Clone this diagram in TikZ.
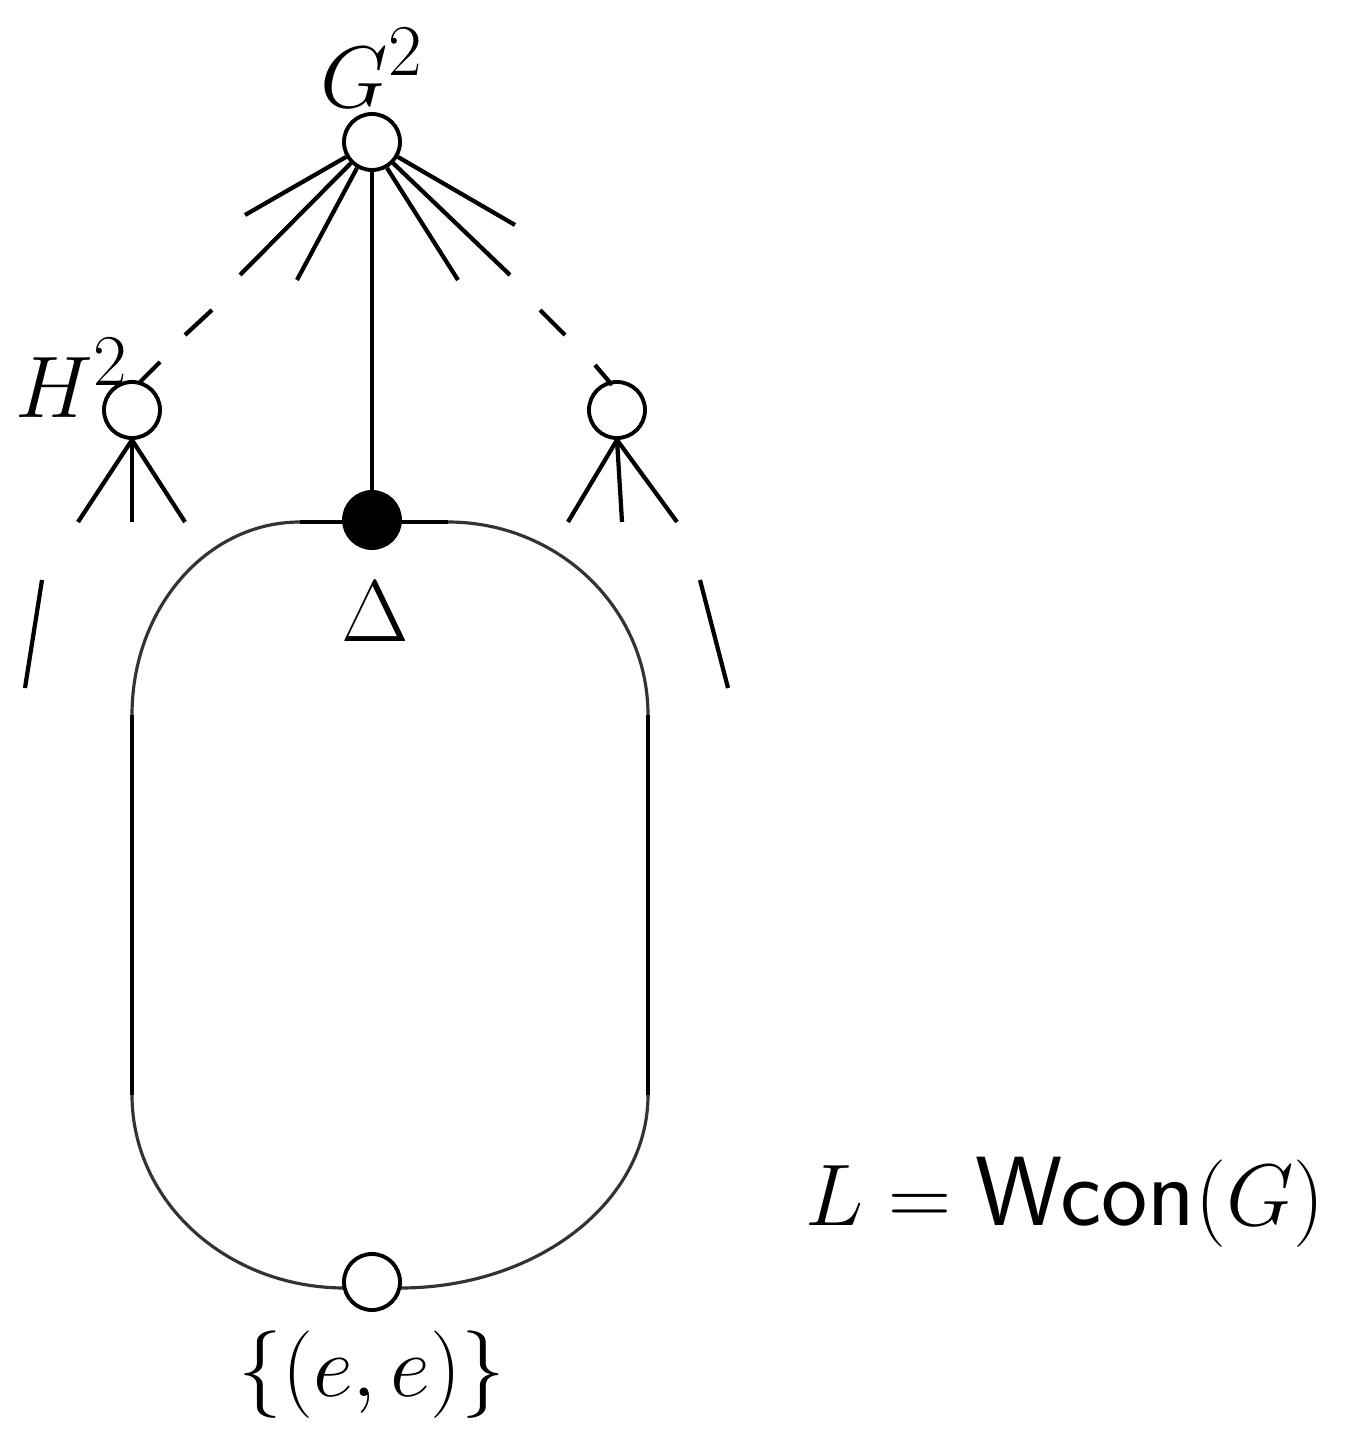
\documentclass[tikz,border=0pt]{standalone}
\begin{document}
\begin{tikzpicture}[x=0.01cm,y=-0.01cm,
  ln/.style={line width=1.2pt},
  arcl/.style={line width=0.9pt,black!80},
  open/.style={circle,draw,line width=1.1pt,fill=white,minimum size=0.56cm,inner sep=0pt},
  full/.style={circle,draw,line width=1.1pt,fill=black,minimum size=0.56cm,inner sep=0pt},
  lab/.style={font=\fontsize{28}{32}\selectfont,inner sep=0pt}]
\useasboundingbox (0,0) rectangle (1367,1431);
% box
\draw[ln] (132,715) -- (132,1095);
\draw[ln] (648,715) -- (648,1095);
\draw[ln] (300,522) -- (448,522);
\draw[ln] (345,1288) -- (400,1288);
\draw[arcl] (132,715) .. controls (132,608) and (207,522) .. (300,522);
\draw[arcl] (448,522) .. controls (558,522) and (648,608) .. (648,715);
\draw[arcl] (132,1095) .. controls (132,1202) and (227,1288) .. (345,1288);
\draw[arcl] (400,1288) .. controls (537,1288) and (648,1202) .. (648,1095);
% nodes
\node[open] (g) at (372,142) {};
\node[open] (h) at (132,410) {};
\node[open] (r) at (617,410) {};
\node[full] (d) at (372,520) {};
\node[open] (b) at (372,1282) {};
\node[lab] at (372,68) {$G^2$};
\node[lab] at (72,378) {$H^2$};
\node[lab] at (375,612) {$\Delta$};
\node[lab] at (372,1375) {$\{(e,e)\}$};
\node[lab] at (1065,1202) {$L=\textsf{Wcon}(G)$};
% edges
\draw[ln] (g) -- (d);
\draw[ln] (g.210) -- (245,215);
\draw[ln] (g.225) -- (240,275);
\draw[ln] (g.240) -- (297,280);
\draw[ln] (g.330) -- (515,225);
\draw[ln] (g.315) -- (510,275);
\draw[ln] (g.300) -- (458,280);
\draw[ln] (212,310) -- (185,335);
\draw[ln] (160,362) -- (140,382);
\draw[ln] (540,310) -- (565,335);
\draw[ln] (595,365) -- (612,385);
\draw[ln] (h.south) -- (78,522);
\draw[ln] (h.south) -- (132,522);
\draw[ln] (h.south) -- (185,522);
\draw[ln] (r.south) -- (568,522);
\draw[ln] (r.south) -- (622,522);
\draw[ln] (r.south) -- (677,522);
\draw[ln] (42,580) -- (25,688);
\draw[ln] (700,580) -- (728,688);
\end{tikzpicture}
\end{document}
